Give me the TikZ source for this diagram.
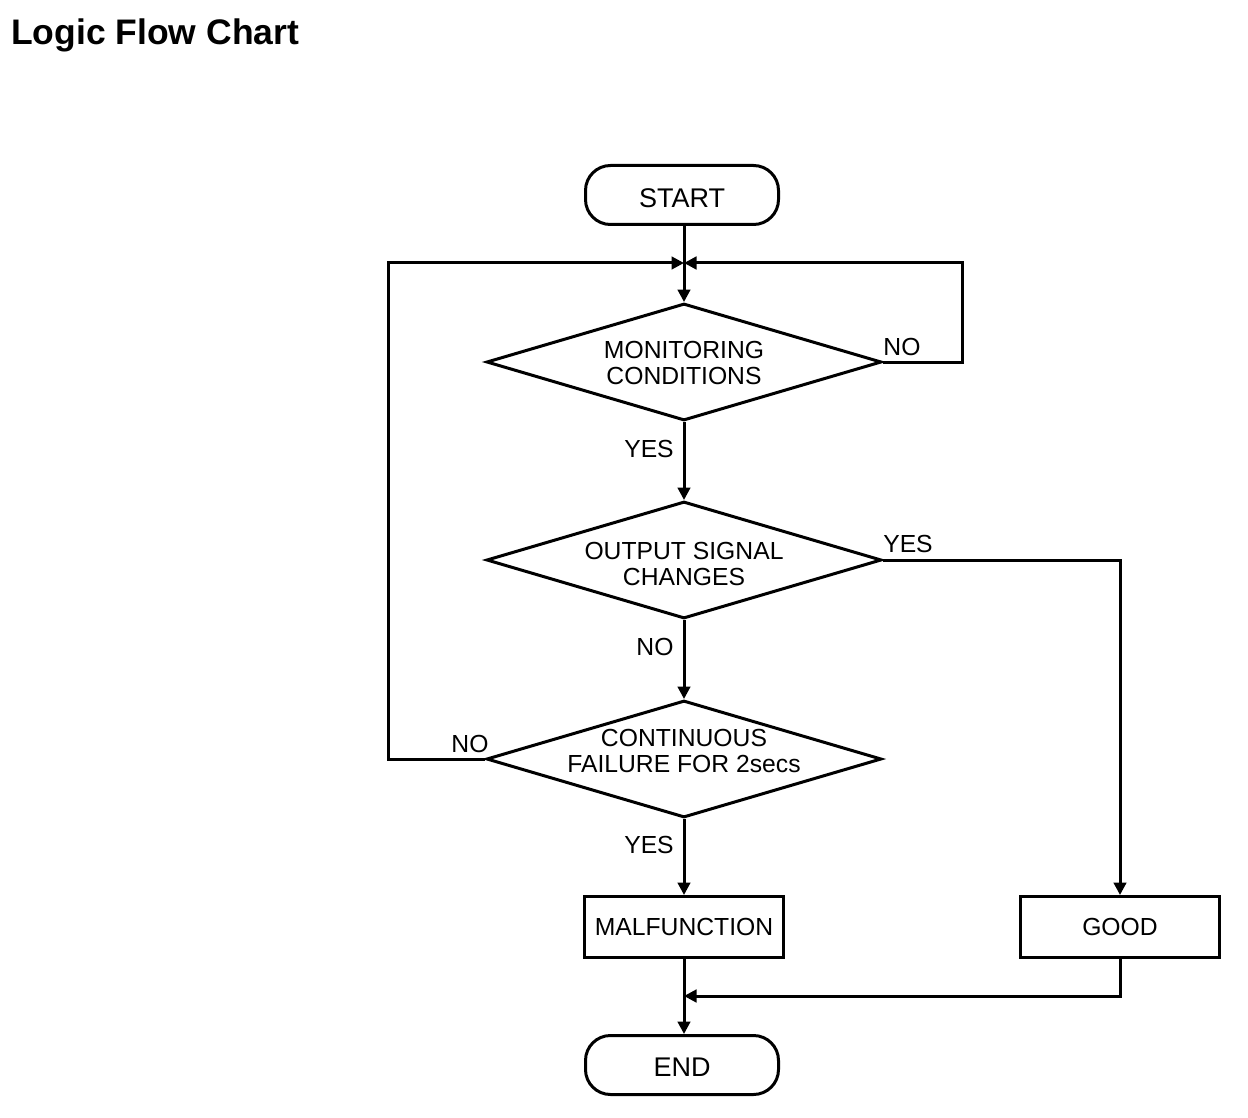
\documentclass[tikz,border=0pt]{standalone}
\usepackage{fontspec}
\setmainfont{Liberation Sans}
\usetikzlibrary{shapes.geometric,arrows.meta}
\begin{document}
\begin{tikzpicture}[x=1pt,y=-1pt,
  every node/.style={font=\fontsize{24.7}{25.4}\selectfont},
  lbl/.style={inner sep=0pt},
  term/.style={draw,line width=3pt,rounded corners=25pt,minimum width=193pt,minimum height=59pt,inner sep=0pt,font=\fontsize{27}{28}\selectfont,text depth=0pt},
  proc/.style={draw,line width=3pt,minimum width=199pt,minimum height=61pt,inner sep=0pt},
  decision/.style={draw,line width=3pt,diamond,aspect=3.37,minimum width=395pt,minimum height=117pt,inner sep=0pt},
  dtext/.style={align=center,inner sep=0pt},
  conn/.style={line width=3pt},
  arr/.style={conn,-{Triangle[length=12.5pt,width=12.5pt]}}
]
\useasboundingbox (0,0) rectangle (1248,1118);
\node[anchor=base west,inner sep=0pt,font=\fontsize{35.5}{38}\selectfont\bfseries] (title) at (11,45) {Logic Flow Chart};

\node[term,text height=25.3pt] (start) at (682,195) {START};
\node[decision,label={[dtext,yshift=-1pt]center:MONITORING\\CONDITIONS}] (d1) at (684,362) {};
\node[decision,label={[dtext,yshift=-4pt]center:OUTPUT SIGNAL\\CHANGES}] (d2) at (684,560) {};
\node[decision,label={[dtext,yshift=8pt]center:CONTINUOUS\\FAILURE FOR 2secs}] (d3) at (684,759) {};
\node[proc] (malf) at (684,927) {MALFUNCTION};
\node[proc] (good) at (1120,927) {GOOD};
\node[term,text height=22.7pt] (end) at (682,1065) {END};

\coordinate (j1) at (684,263);
\coordinate (j2) at (684,996);
\coordinate (lc1) at (388,759);
\coordinate (lc2) at (388,263);
\coordinate (rc1) at (962,362);
\coordinate (rc2) at (962,263);
\coordinate (yc) at (1120,560);
\coordinate (gc) at (1120,996);

\draw[arr] (start.south -| j1) -- (d1.north);
\draw[arr] (d3.west) -- (lc1) -- (lc2) -- (j1);
\draw[arr] (d1.east) -- (rc1) -- (rc2) -- (j1);
\draw[arr] (d1.south) -- (d2.north);
\draw[arr] (d2.south) -- (d3.north);
\draw[arr] (d2.east) -- (yc) -- (good.north);
\draw[arr] (d3.south) -- (malf.north);
\draw[arr] (malf.south) -- (end.north -| malf.south);
\draw[arr] (good.south) -- (gc) -- (j2);

\node[lbl] (l1) at (649,449) {YES};
\node[lbl] (l2) at (902,347) {NO};
\node[lbl] (l3) at (908,544) {YES};
\node[lbl] (l4) at (655,647) {NO};
\node[lbl] (l5) at (470,744) {NO};
\node[lbl] (l6) at (649,845) {YES};
\end{tikzpicture}
\end{document}
